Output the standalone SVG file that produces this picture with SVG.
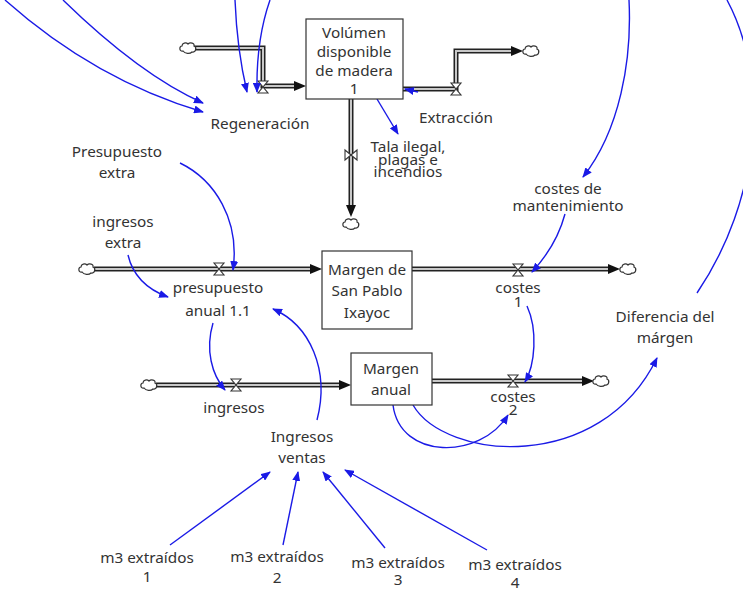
<svg xmlns="http://www.w3.org/2000/svg" width="743" height="599" viewBox="0 0 743 599">
<style>
text{font-family:"Noto Sans","Open Sans","DejaVu Sans",sans-serif;font-size:15.3px;fill:#333;text-anchor:middle}
.box{fill:#fff;stroke:#333;stroke-width:1.2}
.po{fill:none;stroke:#222;stroke-width:5}
.pi{fill:none;stroke:#c8c8c8;stroke-width:2}
.ah{fill:#111}
.lk{fill:none;stroke:#1a1ae6;stroke-width:1.4;marker-end:url(#ba)}
.cl{fill:#fff;stroke:#333;stroke-width:1.2}
.vl{fill:#fff;stroke:#333;stroke-width:1.1}
</style>
<defs>
<marker id="ba" viewBox="0 0 10 8" refX="9" refY="4" markerWidth="10" markerHeight="8" markerUnits="userSpaceOnUse" orient="auto">
<path d="M0,0 L10,4 L0,8 Z" fill="#1a1ae6"/>
</marker>
<path id="cloud" d="M-5,3 C-9,4 -9,-2 -6,-2 C-6,-5 -2,-6 0,-4 C2,-6 7,-5 6,-2 C9,-1 8,5 4,4 C2,6 -3,6 -5,3 Z"/>
<path id="vh" d="M-5,-6 H5 L-5,6 H5 Z"/>
<path id="vv" d="M-6,-5 V5 L6,-5 V5 Z"/>
</defs>

<g id="pipes">
<path class="po" d="M194,48 H263 V86 H296"/><path class="pi" d="M194,48 H263 V86 H296"/>
<polygon class="ah" points="306,86 294,81 294,91"/>
<use href="#cloud" class="cl" x="188" y="48"/>
<use href="#vh" class="vl" x="263" y="87"/>

<path class="po" d="M403,89 H456 V51 H512"/><path class="pi" d="M403,89 H456 V51 H512"/>
<polygon class="ah" points="523,51 511,46 511,56"/>
<use href="#cloud" class="cl" x="531" y="51"/>
<use href="#vh" class="vl" x="456" y="89"/>

<path class="po" d="M351,99 V205"/><path class="pi" d="M351,99 V205"/>
<polygon class="ah" points="351,217 346,205 356,205"/>
<use href="#cloud" class="cl" x="351" y="224"/>
<use href="#vv" class="vl" x="351" y="155"/>

<path class="po" d="M94,269 H311"/><path class="pi" d="M94,269 H311"/>
<polygon class="ah" points="322,269 310,264 310,274"/>
<use href="#cloud" class="cl" x="87" y="269"/>
<use href="#vh" class="vl" x="219" y="269"/>

<path class="po" d="M412,269 H609"/><path class="pi" d="M412,269 H609"/>
<polygon class="ah" points="620,269 608,264 608,274"/>
<use href="#cloud" class="cl" x="628" y="269"/>
<use href="#vh" class="vl" x="518" y="270"/>

<path class="po" d="M156,385 H340"/><path class="pi" d="M156,385 H340"/>
<polygon class="ah" points="351,385 339,380 339,390"/>
<use href="#cloud" class="cl" x="149" y="385"/>
<use href="#vh" class="vl" x="236" y="385"/>

<path class="po" d="M432,381 H583"/><path class="pi" d="M432,381 H583"/>
<polygon class="ah" points="594,381 582,376 582,386"/>
<use href="#cloud" class="cl" x="601" y="381"/>
<use href="#vh" class="vl" x="513" y="381"/>
</g>

<g id="links">
<path class="lk" d="M5,0 Q95,80 203,112"/>
<path class="lk" d="M63,0 Q140,75 203,103"/>
<path class="lk" d="M235,0 Q237,50 247,92"/>
<path class="lk" d="M270,0 Q256,40 257,92"/>
<path class="lk" d="M629,0 C632,60 620,130 583,177"/>
<path fill="none" stroke="#1a1ae6" stroke-width="1.4" d="M697,293 C760,200 770,80 727,0"/>
<path class="lk" d="M418,92 L405,89"/>
<path class="lk" d="M377,99 L398,134"/>
<path class="lk" d="M565,214 C558,240 545,258 532,272"/>
<path class="lk" d="M180,163 C215,180 240,220 233,270"/>
<path class="lk" d="M128,255 Q135,285 168,297"/>
<path class="lk" d="M317,420 C330,370 310,325 273,309"/>
<path class="lk" d="M213,323 C205,350 212,375 225,390"/>
<path class="lk" d="M527,306 C538,330 535,365 525,382"/>
<path class="lk" d="M393,405 C400,460 480,460 508,415"/>
<path class="lk" d="M413,405 C445,460 600,475 657,358"/>
<path class="lk" d="M170,545 L270,472"/>
<path class="lk" d="M283,545 L298,472"/>
<path class="lk" d="M385,548 L323,472"/>
<path class="lk" d="M487,550 L345,470"/>
</g>

<g id="volumen">
<rect class="box" x="306" y="19" width="97" height="80"/>
<text x="354" y="38">Volúmen</text>
<text x="354" y="57">disponible</text>
<text x="354" y="76">de madera</text>
<text x="354" y="94">1</text>
</g>
<g id="margen-san-pablo">
<rect class="box" x="322" y="251" width="90" height="78"/>
<text x="367" y="275">Margen de</text>
<text x="367" y="296">San Pablo</text>
<text x="367" y="318">Ixayoc</text>
</g>
<g id="margen-anual">
<rect class="box" x="351" y="353" width="81" height="52"/>
<text x="391" y="374">Margen</text>
<text x="391" y="395">anual</text>
</g>
<g id="regeneracion"><text x="260" y="129">Regeneración</text></g>
<g id="extraccion"><text x="456" y="123">Extracción</text></g>
<g id="tala">
<text x="408" y="152">Tala ilegal,</text>
<text x="408" y="165">plagas e</text>
<text x="408" y="177">incendios</text>
</g>
<g id="presupuesto-extra"><text x="117" y="157">Presupuesto</text><text x="117" y="178">extra</text></g>
<g id="costes-mantenimiento"><text x="568" y="194">costes de</text><text x="568" y="211">mantenimiento</text></g>
<g id="ingresos-extra"><text x="123" y="227">ingresos</text><text x="123" y="248">extra</text></g>
<g id="presupuesto-anual"><text x="218" y="293">presupuesto</text><text x="218" y="316">anual 1.1</text></g>
<g id="costes1"><text x="518" y="293">costes</text><text x="518" y="307">1</text></g>
<g id="diferencia"><text x="665" y="322">Diferencia del</text><text x="665" y="343">márgen</text></g>
<g id="ingresos"><text x="234" y="413">ingresos</text></g>
<g id="costes2"><text x="513" y="402">costes</text><text x="513" y="415">2</text></g>
<g id="ingresos-ventas"><text x="302" y="442">Ingresos</text><text x="302" y="463">ventas</text></g>
<g id="m3-1"><text x="147" y="563">m3 extraídos</text><text x="147" y="582">1</text></g>
<g id="m3-2"><text x="277" y="562">m3 extraídos</text><text x="277" y="583">2</text></g>
<g id="m3-3"><text x="398" y="568">m3 extraídos</text><text x="398" y="585">3</text></g>
<g id="m3-4"><text x="515" y="570">m3 extraídos</text><text x="515" y="588">4</text></g>
</svg>
